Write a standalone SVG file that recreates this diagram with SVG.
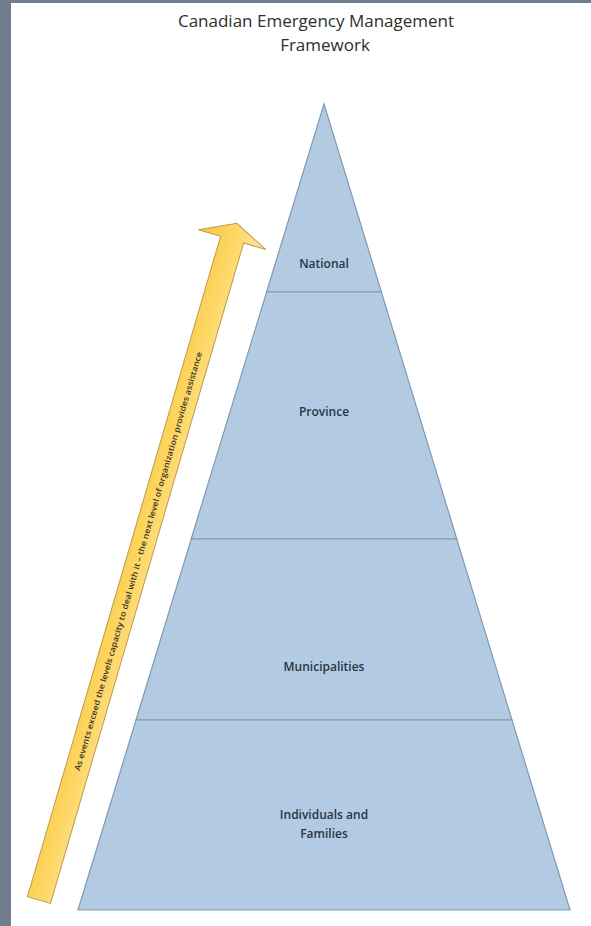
<svg xmlns="http://www.w3.org/2000/svg" width="591" height="926" viewBox="0 0 591 926">
  <defs>
    <style>
      .layer { fill: #b2cbe2; stroke: #8199b1; stroke-width: 1.2; }
      .lbl { font-family: "Open Sans", "Liberation Sans", sans-serif; font-size: 12px; font-weight: 600; fill: #2a3542; text-anchor: middle; }
      .title { font-family: "Open Sans", "Liberation Sans", sans-serif; font-size: 17px; fill: #2e2e2e; text-anchor: middle; }
      .atext { font-family: "Open Sans", "Liberation Sans", sans-serif; font-size: 8px; font-weight: 600; fill: #3a3626; text-anchor: middle; }
    </style>
    <linearGradient id="gold" x1="0" y1="0" x2="1" y2="0">
      <stop offset="0" stop-color="#f8c73e"/>
      <stop offset="0.5" stop-color="#fdd663"/>
      <stop offset="1" stop-color="#fde6a2"/>
    </linearGradient>
  </defs>
  <rect x="0" y="0" width="591" height="926" fill="#ffffff"/>
  <rect x="0" y="0" width="591" height="3" fill="#6f7d8c"/>
  <rect x="0" y="0" width="11" height="926" fill="#6f7d8c"/>

  <g id="title">
    <text class="title" x="316" y="27">Canadian Emergency Management</text>
    <text class="title" x="325" y="51">Framework</text>
  </g>

  <g id="national">
    <polygon class="layer" points="324,104 381.4,292 266.6,292"/>
    <text class="lbl" x="324" y="268">National</text>
  </g>
  <g id="province">
    <polygon class="layer" points="266.6,292 381.4,292 456.8,539 191.2,539"/>
    <text class="lbl" x="324" y="416">Province</text>
  </g>
  <g id="municipalities">
    <polygon class="layer" points="191.2,539 456.8,539 512,720 136,720"/>
    <text class="lbl" x="324" y="671">Municipalities</text>
  </g>
  <g id="families">
    <polygon class="layer" points="136,720 512,720 570,910 78,910"/>
    <text class="lbl" x="324" y="819">Individuals and</text>
    <text class="lbl" x="324" y="838">Families</text>
  </g>

  <g id="connectors">
    <g transform="translate(39,900) rotate(16.3)">
      <polygon points="-12,0 -12,-688 -35,-688 0,-705 35,-688 12,-688 12,0" fill="url(#gold)" stroke="#c09a4a" stroke-width="1"/>
      <text class="atext" transform="rotate(-90)" x="353" y="3" textLength="436" lengthAdjust="spacingAndGlyphs">As events exceed the levels capacity to deal with it – the next level of organization provides assistance</text>
    </g>
  </g>
</svg>
